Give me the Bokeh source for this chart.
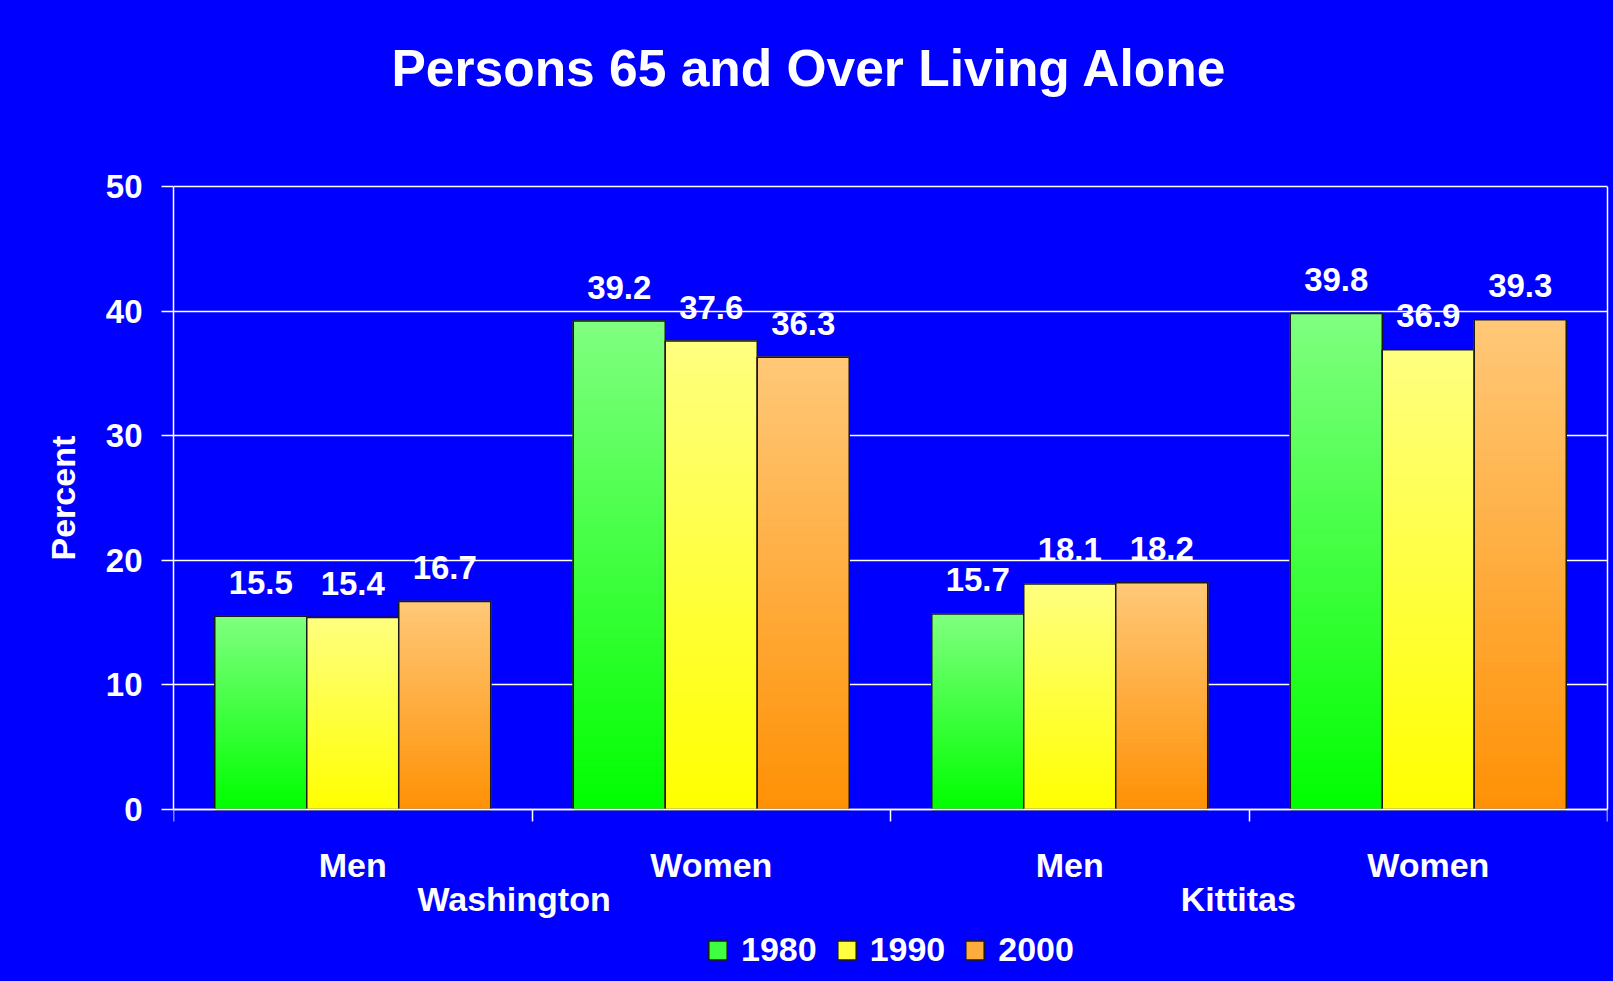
from bokeh.plotting import figure
from bokeh.models import (ColumnDataSource, FixedTicker, LinearAxis, Legend, LegendItem,
                          Range1d, Title)
from bokeh.core.properties import value
from bokeh.embed import file_html
from bokeh.resources import INLINE

# ---------------- data ----------------
regions = ["Washington", "Kittitas"]
sexes = ["Men", "Women", "Men", "Women"]
years = ["1980", "1990", "2000"]
v1980 = [15.5, 39.2, 15.7, 39.8]
v1990 = [15.4, 37.6, 18.1, 36.9]
v2000 = [16.7, 36.3, 18.2, 39.3]
y_ticks = [0, 10, 20, 30, 40, 50]
title = "Persons 65 and Over Living Alone"
y_label = "Percent"

# ---------------- style / layout ----------------
FONT = "Liberation Sans"
BLUE = "#0000FF"
WHITE = "#FFFFFF"
OUTLINE = "#1a1a1a"
top_cols = [(128, 255, 128), (255, 255, 128), (255, 200, 120)]
bot_cols = [(0, 255, 0), (255, 255, 0), (255, 145, 5)]
BAR_W = 0.2566
N_STRIPS = 80
W, H = 1613, 981
FRAME_TOP = 108          # plot area (extends above/below the value axis)
Y50_PX, Y0_PX = 186, 809  # pixel rows of the 50 and 0 gridlines
REGION_SHIFT = [-0.05, -0.03]  # small leftward nudge of the region labels
Y_MAX = y_ticks[-1]
px_per_unit = (Y0_PX - Y50_PX) / Y_MAX
y_start = -(H - Y0_PX) / px_per_unit
y_end = Y_MAX + (Y50_PX - FRAME_TOP) / px_per_unit

series = [v1980, v1990, v2000]
n_groups = len(sexes)

p = figure(width=W, height=H, output_backend="svg", toolbar_location=None,
           x_range=Range1d(0, n_groups), y_range=Range1d(y_start, y_end),
           min_border_left=173, min_border_right=6, min_border_top=FRAME_TOP,
           min_border_bottom=0, x_axis_location=None, y_axis_location=None)
p.background_fill_color = BLUE
p.border_fill_color = BLUE
p.outline_line_color = None
p.styles = {"background-color": BLUE}

p.title.text = title
p.title.text_font = FONT
p.title.text_font_style = "bold"
p.title.text_font_size = "51.5px"
p.title.text_color = WHITE
p.title.align = "left"
p.title.offset = 218
p.title.vertical_align = "top"
p.title.standoff = 20


def hexc(c):
    return "#%02x%02x%02x" % tuple(int(round(v)) for v in c)


legend_items = []
for k, vals in enumerate(series):
    xs = [g + 0.5 + (k - 1) * BAR_W for g in range(n_groups)]
    mid = hexc([(a + b) / 2 for a, b in zip(top_cols[k], bot_cols[k])])
    src = ColumnDataSource(dict(x=xs, top=vals, lab=["%.1f" % v for v in vals]))
    r = p.vbar(x="x", top="top", bottom=0, width=BAR_W, source=src,
               fill_color=mid, line_color=OUTLINE, line_width=1.5)
    legend_items.append(LegendItem(label=years[k], renderers=[r]))
    # gradient strips
    L, R, B, T, C = [], [], [], [], []
    for xv, v in zip(xs, vals):
        for i in range(N_STRIPS):
            f = (i + 0.5) / N_STRIPS
            col = [b + (t - b) * f for b, t in zip(bot_cols[k], top_cols[k])]
            L.append(xv - BAR_W / 2)
            R.append(xv + BAR_W / 2)
            B.append(v * i / N_STRIPS)
            T.append(v * (i + 1) / N_STRIPS)
            C.append(hexc(col))
    p.quad(left=L, right=R, bottom=B, top=T, fill_color=C, line_color=C, line_width=1)
    p.vbar(x="x", top="top", bottom=0, width=BAR_W, source=src,
           fill_color=None, line_color=OUTLINE, line_width=1.5)
    p.text(x="x", y="top", text="lab", source=src, text_align="center",
           text_baseline="alphabetic", y_offset=-34, text_color=WHITE,
           text_font=value(FONT), text_font_style="bold", text_font_size="33px")

# grid
p.xgrid.visible = False
p.ygrid.ticker = FixedTicker(ticks=y_ticks)
p.ygrid.grid_line_color = WHITE
p.ygrid.grid_line_width = 1.5

# y axis
yax = LinearAxis(ticker=FixedTicker(ticks=y_ticks), bounds=(0, Y_MAX))
yax.axis_line_color = WHITE
yax.axis_line_width = 1.5
yax.major_tick_line_color = WHITE
yax.major_tick_line_width = 1.5
yax.major_tick_out = 12
yax.major_tick_in = 0
yax.minor_tick_line_color = None
yax.major_label_standoff = 19
yax.major_label_text_color = WHITE
yax.major_label_text_font = FONT
yax.major_label_text_font_style = "bold"
yax.major_label_text_font_size = "33px"
p.add_layout(yax, "left")

# y-axis label, centred on the 0..50 value axis (not on the taller plot area)
label_len = 125  # approx. rendered length of the label text, px
ylab = Title(text=y_label, align="left", vertical_align="middle", standoff=40,
             offset=(H - (Y0_PX + Y50_PX) / 2) - label_len / 2,
             text_font=FONT, text_font_style="bold", text_font_size="34px",
             text_color=WHITE)
p.add_layout(ylab, "left")

# right border of the plot area
rborder = LinearAxis(ticker=FixedTicker(ticks=[], minor_ticks=[]), bounds=(0, Y_MAX))
rborder.axis_line_color = WHITE
rborder.axis_line_width = 1.5
rborder.major_tick_line_color = None
rborder.minor_tick_line_color = None
rborder.major_tick_out = 0
rborder.minor_tick_out = 0
p.add_layout(rborder, "right")

# x axis at y = 0: sex labels, boundary ticks (minor)
xax = LinearAxis(ticker=FixedTicker(ticks=[g + 0.5 for g in range(n_groups)],
                                    minor_ticks=list(range(n_groups + 1))),
                 fixed_location=0)
xax.major_label_overrides = {g + 0.5: s for g, s in enumerate(sexes)}
xax.axis_line_color = WHITE
xax.axis_line_width = 1.5
xax.major_tick_line_color = None
xax.major_tick_out = 0
xax.major_tick_in = 0
xax.minor_tick_line_color = WHITE
xax.minor_tick_line_width = 1.5
xax.minor_tick_out = 12
xax.minor_tick_in = 0
xax.major_label_standoff = 24
xax.major_label_text_color = WHITE
xax.major_label_text_font = FONT
xax.major_label_text_font_style = "bold"
xax.major_label_text_font_size = "34px"
p.add_layout(xax, "below")

# region labels (each centred under its pair of groups)
region_pos = [2 * i + 1 + REGION_SHIFT[i] for i in range(len(regions))]
rax = LinearAxis(ticker=FixedTicker(ticks=region_pos, minor_ticks=[]), fixed_location=0)
rax.major_label_overrides = {pos: name for pos, name in zip(region_pos, regions)}
rax.axis_line_color = None
rax.major_tick_line_color = None
rax.minor_tick_line_color = None
rax.major_tick_out = 0
rax.major_tick_in = 0
rax.minor_tick_out = 0
rax.major_label_standoff = 70
rax.major_label_text_color = WHITE
rax.major_label_text_font = FONT
rax.major_label_text_font_style = "bold"
rax.major_label_text_font_size = "34px"
p.add_layout(rax, "below")

legend = Legend(items=legend_items, orientation="horizontal", location=(533, 12))
legend.background_fill_alpha = 0
legend.border_line_color = None
legend.label_text_color = WHITE
legend.label_text_font = FONT
legend.label_text_font_style = "bold"
legend.label_text_font_size = "34px"
legend.glyph_width = 23
legend.glyph_height = 24
legend.label_standoff = 12
legend.spacing = 18
legend.padding = 0
legend.margin = 0
p.add_layout(legend, "center")

html = file_html(p, INLINE)
open("out.html", "w").write(html)
